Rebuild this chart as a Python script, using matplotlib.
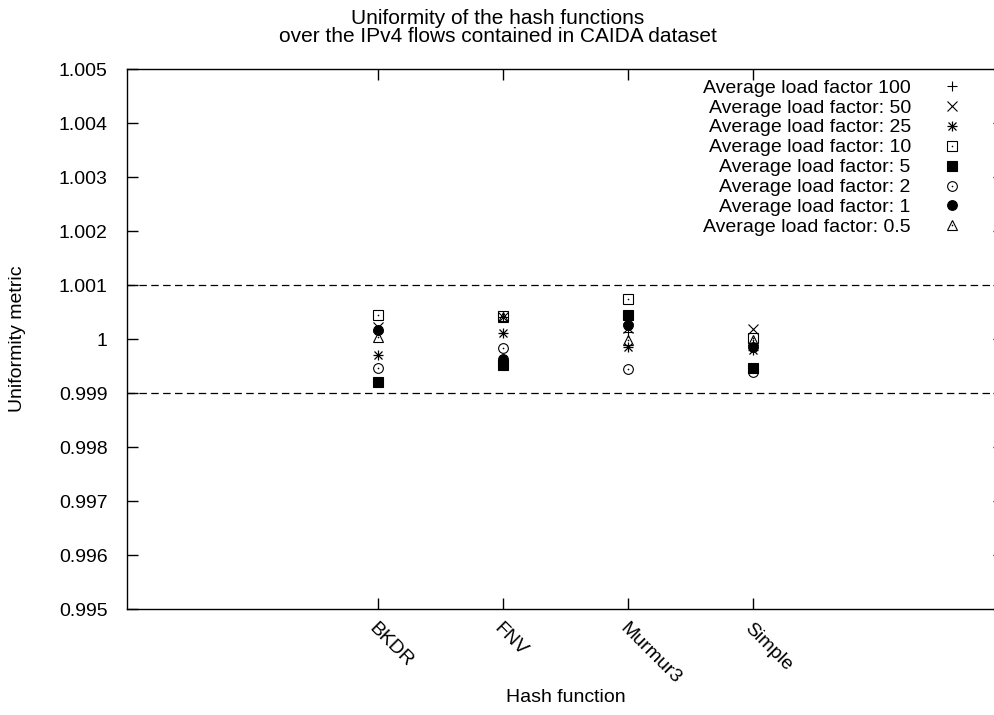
import matplotlib
matplotlib.use("Agg")
import matplotlib.pyplot as plt
from matplotlib.legend_handler import HandlerTuple

plt.rcParams['font.family'] = ['Liberation Sans', 'DejaVu Sans']

# Hash functions on the x axis
hash_functions = ["BKDR", "FNV", "Murmur3", "Simple"]

# Uniformity metric per hash function, one list per average load factor
lf_100 = [1.00017, 1.00041, 1.000136, 0.99989]
lf_50 = [1.000222, 1.00041, 1.00020, 1.000179]
lf_25 = [0.999704, 1.000105, 0.999858, 0.999796]
lf_10 = [1.000444, 1.000426, 1.000735, 1.000012]
lf_5 = [0.999204, 0.999519, 1.000444, 0.999457]
lf_2 = [0.999463, 0.999827, 0.999438, 0.999395]
lf_1 = [1.000167, 0.999623, 1.000259, 0.999858]
lf_05 = [1.000037, 1.000415, 0.99998, 0.99998]

series_labels = [
    "Average load factor 100",
    "Average load factor: 50",
    "Average load factor: 25",
    "Average load factor: 10",
    "Average load factor: 5",
    "Average load factor: 2",
    "Average load factor: 1",
    "Average load factor: 0.5",
]
series_values = [lf_100, lf_50, lf_25, lf_10, lf_5, lf_2, lf_1, lf_05]

y_ticks = [0.995, 0.996, 0.997, 0.998, 0.999, 1.0, 1.001, 1.002, 1.003, 1.004, 1.005]
y_tick_labels = ["0.995", "0.996", "0.997", "0.998", "0.999", "1",
                 "1.001", "1.002", "1.003", "1.004", "1.005"]
bounds = [0.999, 1.001]

FS = 14

# gnuplot-like point types: (marker, filled, centre dot)
styles = [
    ("+", False, False),
    ("x", False, False),
    ("*", False, False),
    ("s", False, True),
    ("s", True, False),
    ("o", False, True),
    ("o", True, False),
    ("^", False, True),
]

fig = plt.figure(figsize=(9.95, 7.15), dpi=100)
ax = fig.add_axes([127 / 995, 106 / 715, 877 / 995, 540 / 715])

xpos = list(range(1, len(hash_functions) + 1))

for yv in bounds:
    ax.axhline(yv, color="black", lw=0.9, ls=(0, (6, 3.5)), zorder=1)

handles = []
for (marker, filled, dot), vals, lab in zip(styles, series_values, series_labels):
    if marker == "*":
        # asterisk drawn as a plus overlaid with a cross
        h1, = ax.plot(xpos, vals, ls="none", marker="+", ms=7.5, mew=0.9, color="black", zorder=3)
        h2, = ax.plot(xpos, vals, ls="none", marker="x", ms=6, mew=0.9, color="black", zorder=3)
        handles.append((h1, h2))
        continue
    ms = {"+": 7.5, "x": 6.5, "s": 7, "o": 7, "^": 7}[marker]
    if marker == "s" and filled:
        ms = 7.2
    h, = ax.plot(xpos, vals, ls="none", marker=marker, ms=ms, mew=0.8,
                 color="black",
                 markerfacecolor="black" if filled else "none", zorder=3)
    if dot:
        d, = ax.plot(xpos, vals, ls="none", marker="o", ms=1.2, mew=0,
                     color="black", zorder=3)
        handles.append((h, d))
    else:
        handles.append(h)

ax.set_xlim(-1, 6)
ax.set_ylim(0.995, 1.005)
ax.set_xticks(xpos)
ax.set_xticklabels(hash_functions, rotation=-45, ha="left", va="top",
                   rotation_mode="anchor")
ax.set_yticks(y_ticks)
ax.set_yticklabels(y_tick_labels)
ax.tick_params(axis="both", direction="in", length=7.7, width=1.0, labelsize=FS,
               top=True, right=True, color="black")
ax.tick_params(axis="x", pad=8)
ax.tick_params(axis="y", pad=14)
for sp in ax.spines.values():
    sp.set_linewidth(1.0)

ax.set_xlabel("Hash function", fontsize=FS, va="center")
ax.xaxis.set_label_coords(0.5, ((715 - 697) - 106) / 540)
ax.set_ylabel("Uniformity metric", fontsize=FS, va="center")
ax.yaxis.set_label_coords((18 - 127) / 877, 0.5)

fig.text(0.5, 1 - 18 / 715, "Uniformity of the hash functions", ha="center",
         va="center", fontsize=15)
fig.text(0.5, 1 - 37 / 715, "over the IPv4 flows contained in CAIDA dataset",
         ha="center", va="center", fontsize=15)

leg = ax.legend(handles, series_labels, loc="upper right",
                bbox_to_anchor=(962 / 995, 1 - 79 / 715),
                bbox_transform=fig.transFigure,
                markerfirst=False, frameon=False, fontsize=FS,
                handlelength=1.0, handletextpad=1.63, labelspacing=0.12,
                borderaxespad=0, borderpad=0,
                handler_map={tuple: HandlerTuple(ndivide=1)})

fig.savefig("out.png", dpi=100)
